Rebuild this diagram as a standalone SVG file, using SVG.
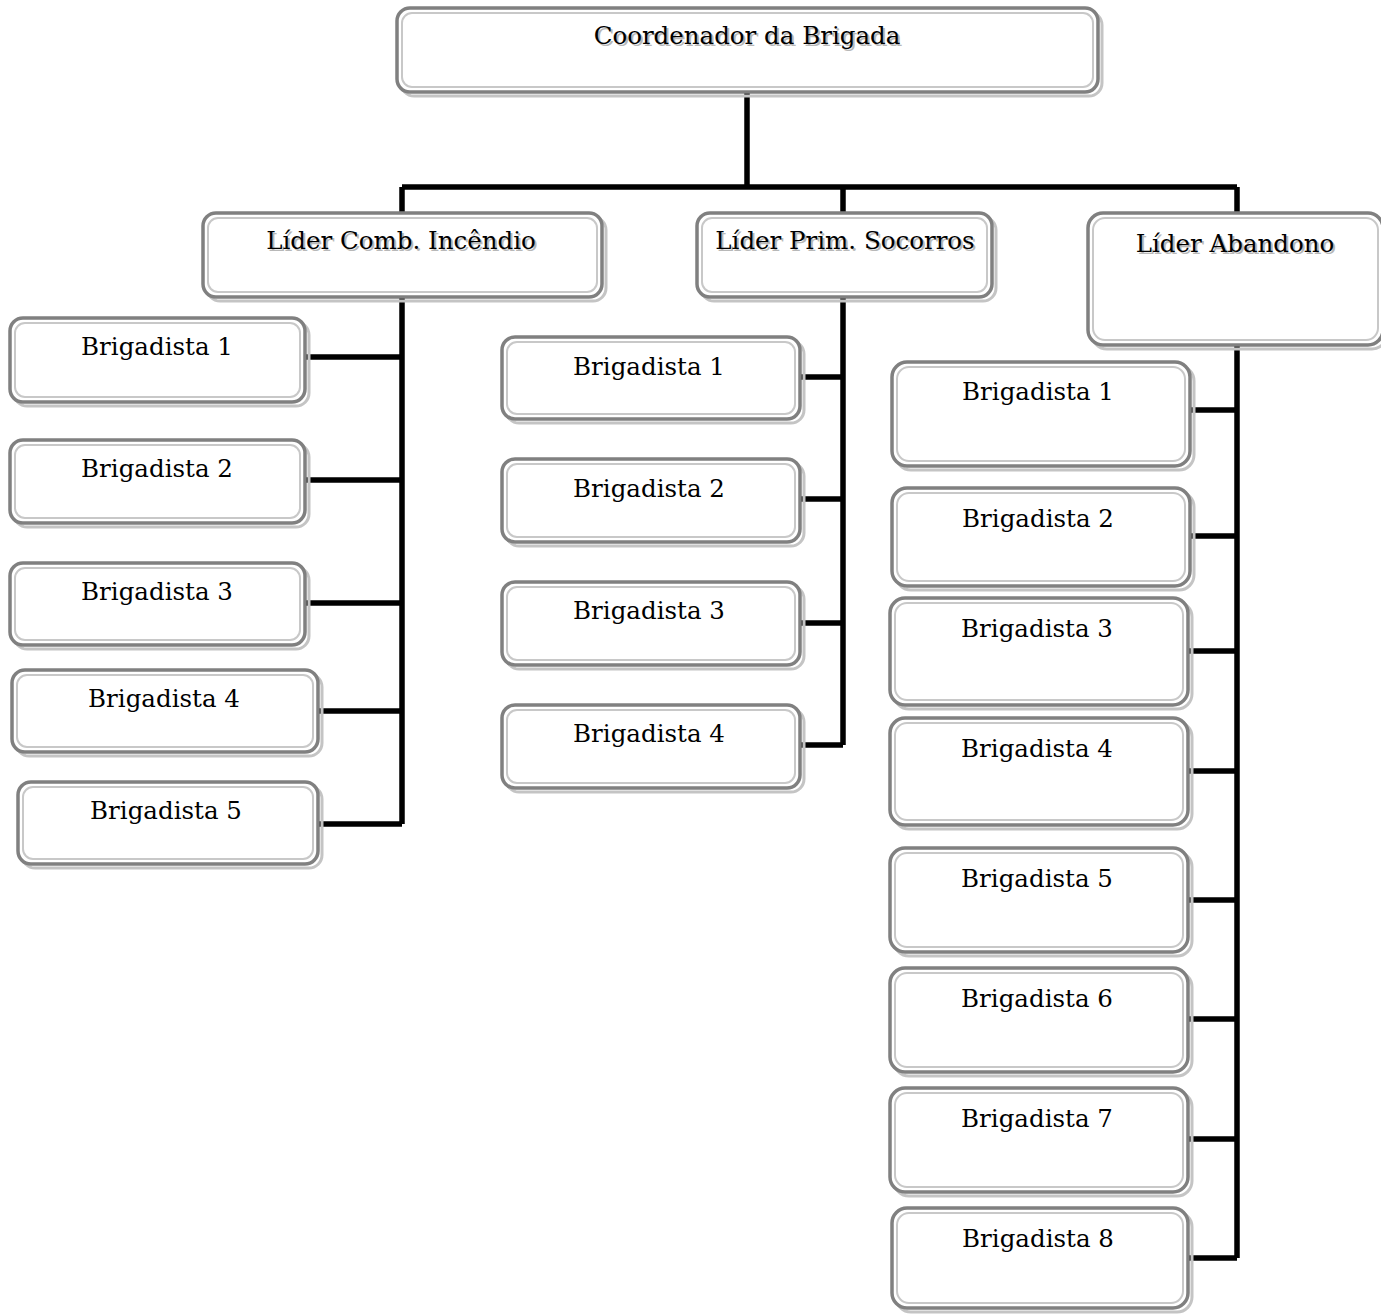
<svg xmlns="http://www.w3.org/2000/svg" width="1381" height="1316" viewBox="0 0 1381 1316">
<style>
.sh{fill:none;stroke:#c4c4c4;stroke-width:3}
.bx{fill:#fff;stroke:#808080;stroke-width:3.5}
.in{fill:none;stroke:#c8c8c8;stroke-width:2}
.t{font-family:"DejaVu Serif","Liberation Serif",serif;font-size:24.5px;fill:#000;text-anchor:middle}
.ts{font-family:"DejaVu Serif","Liberation Serif",serif;font-size:24.5px;fill:#b8b8b8;text-anchor:middle}
.c{fill:none;stroke:#000;stroke-width:5.5}
</style>
<rect width="1381" height="1316" fill="#fff"/>
<g id="connectors">
<path class="c" d="M747 92V187M402 187H1237M402 187V213M843 187V213M1237 187V213"/>
<path class="c" d="M402 297V824M305 357H402M305 480H402M305 603H402M318 711H402M318 824H402"/>
<path class="c" d="M843 297V745M800 377H843M800 499H843M800 623H843M800 745H843"/>
<path class="c" d="M1237 345V1258M1190 410H1237M1190 536H1237M1188 651H1237M1188 771H1237M1188 900H1237M1188 1019H1237M1188 1139H1237M1188 1258H1237"/>
</g>
<g id="coord"><rect class="sh" x="401" y="12" width="701" height="84" rx="13"/><rect class="bx" x="397" y="8" width="701" height="84" rx="13"/><rect class="in" x="402" y="13" width="691" height="74" rx="10"/><text class="ts" x="749" y="46">Coordenador da Brigada</text><text class="t" x="747" y="44">Coordenador da Brigada</text></g>
<g id="lider-comb"><rect class="sh" x="207" y="217" width="399" height="84" rx="13"/><rect class="bx" x="203" y="213" width="399" height="84" rx="13"/><rect class="in" x="208" y="218" width="389" height="74" rx="10"/><text class="ts" x="403" y="251">Líder Comb. Incêndio</text><text class="t" x="401" y="249">Líder Comb. Incêndio</text></g>
<g id="lider-prim"><rect class="sh" x="701" y="217" width="295" height="84" rx="13"/><rect class="bx" x="697" y="213" width="295" height="84" rx="13"/><rect class="in" x="702" y="218" width="285" height="74" rx="10"/><text class="ts" x="847" y="251">Líder Prim. Socorros</text><text class="t" x="845" y="249">Líder Prim. Socorros</text></g>
<g id="lider-aband"><rect class="sh" x="1092" y="217" width="295" height="132" rx="15"/><rect class="bx" x="1088" y="213" width="295" height="132" rx="15"/><rect class="in" x="1093" y="218" width="285" height="122" rx="12"/><text class="ts" x="1237" y="254">Líder Abandono</text><text class="t" x="1235" y="252">Líder Abandono</text></g>
<g id="c1-b1"><rect class="sh" x="14" y="322" width="295" height="84" rx="13"/><rect class="bx" x="10" y="318" width="295" height="84" rx="13"/><rect class="in" x="15" y="323" width="285" height="74" rx="10"/><text class="t" x="157" y="355">Brigadista 1</text></g>
<g id="c1-b2"><rect class="sh" x="14" y="444" width="295" height="83" rx="13"/><rect class="bx" x="10" y="440" width="295" height="83" rx="13"/><rect class="in" x="15" y="445" width="285" height="73" rx="10"/><text class="t" x="157" y="477">Brigadista 2</text></g>
<g id="c1-b3"><rect class="sh" x="14" y="567" width="295" height="82" rx="13"/><rect class="bx" x="10" y="563" width="295" height="82" rx="13"/><rect class="in" x="15" y="568" width="285" height="72" rx="10"/><text class="t" x="157" y="600">Brigadista 3</text></g>
<g id="c1-b4"><rect class="sh" x="16" y="674" width="306" height="82" rx="13"/><rect class="bx" x="12" y="670" width="306" height="82" rx="13"/><rect class="in" x="17" y="675" width="296" height="72" rx="10"/><text class="t" x="164" y="707">Brigadista 4</text></g>
<g id="c1-b5"><rect class="sh" x="22" y="786" width="300" height="82" rx="13"/><rect class="bx" x="18" y="782" width="300" height="82" rx="13"/><rect class="in" x="23" y="787" width="290" height="72" rx="10"/><text class="t" x="166" y="819">Brigadista 5</text></g>
<g id="c2-b1"><rect class="sh" x="506" y="341" width="298" height="82" rx="13"/><rect class="bx" x="502" y="337" width="298" height="82" rx="13"/><rect class="in" x="507" y="342" width="288" height="72" rx="10"/><text class="t" x="649" y="375">Brigadista 1</text></g>
<g id="c2-b2"><rect class="sh" x="506" y="463" width="298" height="83" rx="13"/><rect class="bx" x="502" y="459" width="298" height="83" rx="13"/><rect class="in" x="507" y="464" width="288" height="73" rx="10"/><text class="t" x="649" y="497">Brigadista 2</text></g>
<g id="c2-b3"><rect class="sh" x="506" y="586" width="298" height="83" rx="13"/><rect class="bx" x="502" y="582" width="298" height="83" rx="13"/><rect class="in" x="507" y="587" width="288" height="73" rx="10"/><text class="t" x="649" y="619">Brigadista 3</text></g>
<g id="c2-b4"><rect class="sh" x="506" y="709" width="298" height="83" rx="13"/><rect class="bx" x="502" y="705" width="298" height="83" rx="13"/><rect class="in" x="507" y="710" width="288" height="73" rx="10"/><text class="t" x="649" y="742">Brigadista 4</text></g>
<g id="c3-b1"><rect class="sh" x="896" y="366" width="298" height="104" rx="15"/><rect class="bx" x="892" y="362" width="298" height="104" rx="15"/><rect class="in" x="897" y="367" width="288" height="94" rx="12"/><text class="t" x="1038" y="400">Brigadista 1</text></g>
<g id="c3-b2"><rect class="sh" x="896" y="492" width="298" height="98" rx="15"/><rect class="bx" x="892" y="488" width="298" height="98" rx="15"/><rect class="in" x="897" y="493" width="288" height="88" rx="12"/><text class="t" x="1038" y="527">Brigadista 2</text></g>
<g id="c3-b3"><rect class="sh" x="894" y="602" width="298" height="107" rx="15"/><rect class="bx" x="890" y="598" width="298" height="107" rx="15"/><rect class="in" x="895" y="603" width="288" height="97" rx="12"/><text class="t" x="1037" y="637">Brigadista 3</text></g>
<g id="c3-b4"><rect class="sh" x="894" y="722" width="298" height="107" rx="15"/><rect class="bx" x="890" y="718" width="298" height="107" rx="15"/><rect class="in" x="895" y="723" width="288" height="97" rx="12"/><text class="t" x="1037" y="757">Brigadista 4</text></g>
<g id="c3-b5"><rect class="sh" x="894" y="852" width="298" height="104" rx="15"/><rect class="bx" x="890" y="848" width="298" height="104" rx="15"/><rect class="in" x="895" y="853" width="288" height="94" rx="12"/><text class="t" x="1037" y="887">Brigadista 5</text></g>
<g id="c3-b6"><rect class="sh" x="894" y="972" width="298" height="104" rx="15"/><rect class="bx" x="890" y="968" width="298" height="104" rx="15"/><rect class="in" x="895" y="973" width="288" height="94" rx="12"/><text class="t" x="1037" y="1007">Brigadista 6</text></g>
<g id="c3-b7"><rect class="sh" x="894" y="1092" width="298" height="104" rx="15"/><rect class="bx" x="890" y="1088" width="298" height="104" rx="15"/><rect class="in" x="895" y="1093" width="288" height="94" rx="12"/><text class="t" x="1037" y="1127">Brigadista 7</text></g>
<g id="c3-b8"><rect class="sh" x="896" y="1212" width="296" height="100" rx="15"/><rect class="bx" x="892" y="1208" width="296" height="100" rx="15"/><rect class="in" x="897" y="1213" width="286" height="90" rx="12"/><text class="t" x="1038" y="1247">Brigadista 8</text></g>
</svg>
